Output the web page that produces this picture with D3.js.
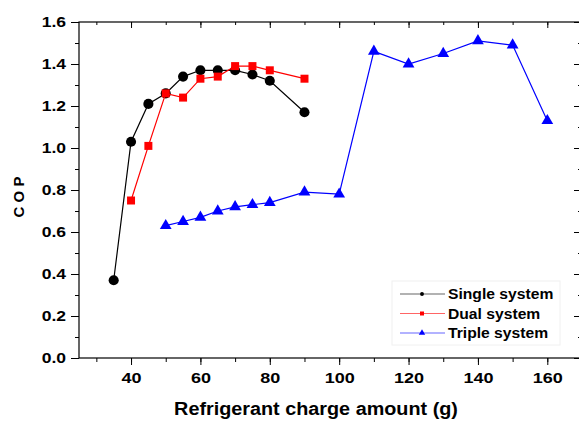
<!DOCTYPE html>
<html>
<head>
<meta charset="utf-8">
<script src="https://cdn.jsdelivr.net/npm/d3@7"></script>
<style>
  body { margin: 0; background: #fff; }
  text { font-family: "Liberation Sans", Arial, sans-serif; font-weight: bold; fill: #000; }
</style>
</head>
<body>
<div id="chart"></div>
<script>
// Data
const singleX = [35, 40, 45, 50, 55, 60, 65, 70, 75, 80, 90];
const singleCOP = [0.37, 1.03, 1.21, 1.26, 1.34, 1.37, 1.37, 1.37, 1.35, 1.32, 1.17];
const dualX = [40, 45, 50, 55, 60, 65, 70, 75, 80, 90];
const dualCOP = [0.75, 1.01, 1.26, 1.24, 1.33, 1.34, 1.39, 1.39, 1.37, 1.33];
const tripleX = [50, 55, 60, 65, 70, 75, 80, 90, 100, 110, 120, 130, 140, 150, 160];
const tripleCOP = [0.63, 0.65, 0.67, 0.70, 0.72, 0.73, 0.74, 0.79, 0.78, 1.46, 1.40, 1.45, 1.51, 1.49, 1.13];
const xTicks = [40, 60, 80, 100, 120, 140, 160];
const yTicks = [0, 0.2, 0.4, 0.6, 0.8, 1.0, 1.2, 1.4, 1.6];
const seriesNames = ["Single system", "Dual system", "Triple system"];

const W = 579, H = 422;
const mLeft = 79, mTop = 22, mRight = 582, mBottom = 358;

const svg = d3.select("#chart").append("svg")
    .attr("width", W).attr("height", H);

const x = d3.scaleLinear().domain([25, 170]).range([mLeft, mRight]);
const y = d3.scaleLinear().domain([0, 1.6]).range([mBottom, mTop]);

// stretch text a bit wider, the original font is wider than ours
function stretch(sel, k) {
    sel.each(function() {
        const len = this.getComputedTextLength();
        d3.select(this).attr("textLength", len * k).attr("lengthAdjust", "spacingAndGlyphs");
    });
}

// minor ticks
const xMinor = d3.range(30, 171, 10);
const yMinor = d3.range(0, 1.61, 0.1);

// bottom axis
const gx = svg.append("g").attr("transform", `translate(0,${mBottom})`);
gx.call(d3.axisBottom(x).tickValues(xMinor).tickSize(4).tickFormat(""));
gx.append("g").call(d3.axisBottom(x).tickValues(xTicks).tickSize(7).tickPadding(7).tickFormat(d3.format("d")));
gx.selectAll("text").style("font-size", "15px").attr("fill", "#000");
stretch(gx.selectAll("text"), 1.2);

// left axis
const gy = svg.append("g").attr("transform", `translate(${mLeft},0)`);
gy.call(d3.axisLeft(y).tickValues(yMinor).tickSize(4).tickFormat(""));
gy.append("g").call(d3.axisLeft(y).tickValues(yTicks).tickSize(8).tickPadding(5).tickFormat(d3.format(".1f")));
gy.selectAll("text").style("font-size", "14px").attr("fill", "#000");
stretch(gy.selectAll("text"), 1.25);

// top axis, inward ticks
const gt = svg.append("g").attr("transform", `translate(0,${mTop})`);
gt.call(d3.axisTop(x).tickValues(xMinor).tickSize(-3).tickFormat(""));
gt.append("g").call(d3.axisTop(x).tickValues(xTicks).tickSize(-6).tickFormat(""));

// right axis, inward ticks
const gr = svg.append("g").attr("transform", `translate(${mRight},0)`);
gr.call(d3.axisRight(y).tickValues(yMinor).tickSize(-4).tickFormat(""));
gr.append("g").call(d3.axisRight(y).tickValues(yTicks).tickSize(-8).tickFormat(""));

svg.selectAll(".domain").remove();
svg.selectAll(".tick line").attr("stroke", "#000").attr("stroke-width", 1);

// frame
svg.append("rect")
    .attr("x", mLeft).attr("y", mTop)
    .attr("width", mRight - mLeft).attr("height", mBottom - mTop)
    .attr("fill", "none").attr("stroke", "#000").attr("stroke-width", 1.2);

// axis titles
const xt = svg.append("text")
    .attr("x", 316).attr("y", 415)
    .attr("text-anchor", "middle")
    .style("font-size", "18px")
    .text("Refrigerant charge amount (g)");
stretch(xt, 1.1);

svg.append("text")
    .attr("transform", "translate(24,197) rotate(-90)")
    .attr("text-anchor", "middle")
    .style("font-size", "15px")
    .text("C O P");

// series
const line = d3.line().x(d => x(d[0])).y(d => y(d[1]));
const series = [
    { name: seriesNames[0], xs: singleX, ys: singleCOP, color: "#000000", shape: d3.symbolCircle, size: 80, lsize: 12 },
    { name: seriesNames[1], xs: dualX, ys: dualCOP, color: "#ff0000", shape: d3.symbolSquare, size: 64, lsize: 16 },
    { name: seriesNames[2], xs: tripleX, ys: tripleCOP, color: "#0000ff", shape: d3.symbolTriangle, size: 60, lsize: 18 }
];

series.forEach(s => {
    const pts = s.xs.map((v, i) => [v, s.ys[i]]);
    svg.append("path")
        .datum(pts)
        .attr("d", line)
        .attr("fill", "none")
        .attr("stroke", s.color)
        .attr("stroke-width", 1.2);
    svg.selectAll(null)
        .data(pts)
        .join("path")
        .attr("transform", d => `translate(${x(d[0])},${y(d[1])})`)
        .attr("d", d3.symbol().type(s.shape).size(s.size))
        .attr("fill", s.color);
});

// legend
const lg = svg.append("g").attr("transform", "translate(392,281)");
lg.append("rect")
    .attr("width", 168).attr("height", 64)
    .attr("fill", "#fff").attr("stroke", "#f0f0f0");
series.forEach((s, i) => {
    const yy = 13 + i * 19.5;
    lg.append("line")
        .attr("x1", 8).attr("x2", 53).attr("y1", yy).attr("y2", yy)
        .attr("stroke", s.color).attr("stroke-width", 1).attr("opacity", 0.6);
    lg.append("path")
        .attr("transform", `translate(30,${yy})`)
        .attr("d", d3.symbol().type(s.shape).size(s.lsize))
        .attr("fill", s.color);
    const t = lg.append("text")
        .attr("x", 56).attr("y", yy + 5)
        .style("font-size", "14.5px")
        .text(s.name);
    stretch(t, 1.08);
});
</script>
</body>
</html>
